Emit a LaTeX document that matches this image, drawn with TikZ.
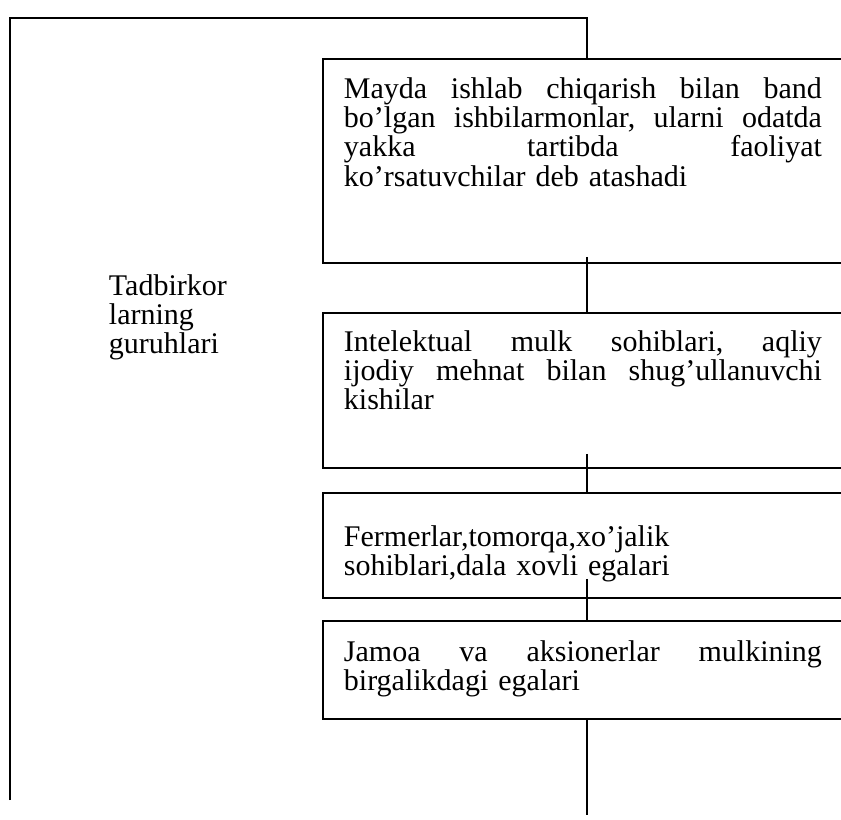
\documentclass[tikz,border=0pt]{standalone}
\usepackage{fontspec}
\setmainfont{Liberation Serif}
\usetikzlibrary{calc}
\begin{document}
\begin{tikzpicture}[x=0.75pt,y=-0.75pt,line width=1.4pt,
  box/.style={draw,rectangle,inner sep=0pt,anchor=north west,minimum width=403.5pt},
  txt/.style={anchor=base west,inner sep=0pt,text width=358.5pt,align=left,font=\fontsize{22.5}{22.1}\selectfont},
  side/.style={anchor=base west,inner sep=0pt,text width=150pt,align=left,font=\fontsize{22.5}{22.1}\selectfont}]
\useasboundingbox (0,0) rectangle (841,819);
\clip (0,0) rectangle (841,819);
% boxes
\node[box,minimum height=153pt] (b1) at (322,58) {};
\node[box,minimum height=116.25pt] (b2) at (322,312) {};
\node[box,minimum height=78.75pt] (b3) at (322,492) {};
\node[box,minimum height=73.5pt] (b4) at (322,620) {};
% texts
\node[txt] (t1) at (343,98) {Mayda\hfill ishlab\hfill chiqarish\hfill bilan\hfill band\\
bo’lgan\hfill ishbilarmonlar,\hfill ularni\hfill odatda\\
yakka\hfill tartibda\hfill faoliyat\\
ko’rsatuvchilar deb atashadi};
\node[txt] (t2) at (343,351) {Intelektual\hfill mulk\hfill sohiblari,\hfill aqliy\\
ijodiy\hfill mehnat\hfill bilan\hfill shug’ullanuvchi\\
kishilar};
\node[txt] (t3) at (343,546) {Fermerlar,tomorqa,xo’jalik\\
sohiblari,dala xovli egalari};
\node[txt] (t4) at (343,661) {Jamoa\hfill va\hfill aksionerlar\hfill mulkining\\
birgalikdagi egalari};
\node[side] (lt) at (108,295) {Tadbirkor\\larning\\guruhlari};
% connectors
\coordinate (tl) at (10,18);
\coordinate (bl) at (10,800);
\coordinate (tr) at (587,18);
\coordinate (br) at (587,815);
\draw (bl) -- (tl) -- (tr) -- (tr |- b1.north);
\draw ($(tr |- b1.south)+(0,-7)$) -- (tr |- b2.north);
\draw ($(tr |- b2.south)+(0,-15)$) -- (tr |- b3.north);
\draw ($(tr |- b3.south)+(0,-20)$) -- (tr |- b4.north);
\draw (tr |- b4.south) -- (br);
\end{tikzpicture}
\end{document}
